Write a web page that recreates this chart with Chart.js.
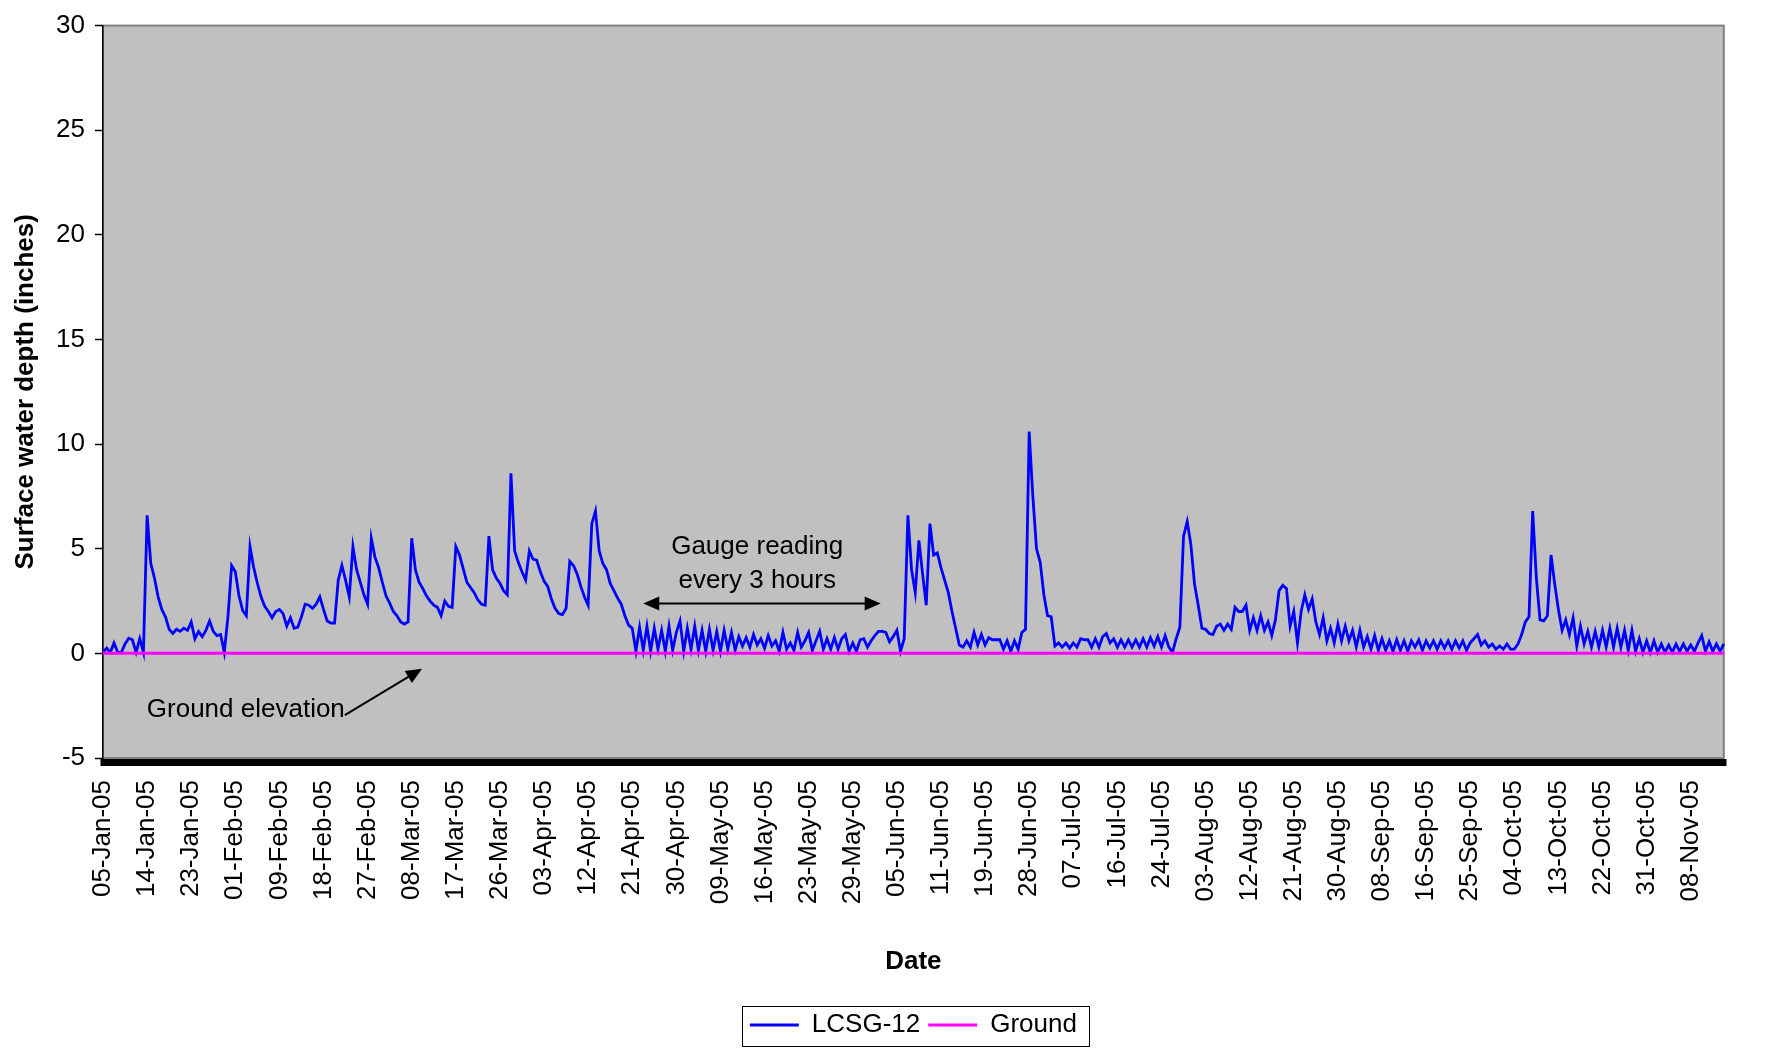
<!DOCTYPE html>
<html>
<head>
<meta charset="utf-8">
<title>LCSG-12 surface water depth</title>
<script src="https://cdn.jsdelivr.net/npm/chart.js@4.4.1/dist/chart.umd.min.js"></script>
<style>
  html, body { margin: 0; padding: 0; background: #fff; }
  canvas { display: block; }
</style>
</head>
<body>
<canvas id="depthChart" width="1769" height="1048"></canvas>
<script>
// date labels shown on the axis, one every 12 samples
const tickLabels = [
  '05-Jan-05', '14-Jan-05', '23-Jan-05', '01-Feb-05', '09-Feb-05', '18-Feb-05',
  '27-Feb-05', '08-Mar-05', '17-Mar-05', '26-Mar-05', '03-Apr-05', '12-Apr-05',
  '21-Apr-05', '30-Apr-05', '09-May-05', '16-May-05', '23-May-05', '29-May-05',
  '05-Jun-05', '11-Jun-05', '19-Jun-05', '28-Jun-05', '07-Jul-05', '16-Jul-05',
  '24-Jul-05', '03-Aug-05', '12-Aug-05', '21-Aug-05', '30-Aug-05', '08-Sep-05',
  '16-Sep-05', '25-Sep-05', '04-Oct-05', '13-Oct-05', '22-Oct-05', '31-Oct-05',
  '08-Nov-05'
];
const samplesPerLabel = 12;

// LCSG-12 surface water depth (inches), one row per label interval
const depth = [
  0.05, 0.25, 0.05, 0.5, 0.05, 0.05, 0.45, 0.72, 0.65, 0.05, 0.7, 0.05,
  6.6, 4.3, 3.6, 2.7, 2.1, 1.75, 1.15, 0.95, 1.15, 1.05, 1.2, 1.1,
  1.5, 0.7, 1.05, 0.8, 1.1, 1.55, 1.05, 0.85, 0.9, 0.05, 1.75, 4.2,
  3.9, 2.75, 2.05, 1.8, 5.1, 4.1, 3.35, 2.7, 2.25, 2.0, 1.7, 2.0,
  2.1, 1.9, 1.3, 1.7, 1.2, 1.25, 1.75, 2.35, 2.3, 2.15, 2.35, 2.7,
  2.1, 1.55, 1.45, 1.45, 3.5, 4.2, 3.5, 2.7, 5.1, 4.0, 3.4, 2.8,
  2.35, 5.5, 4.6, 4.1, 3.4, 2.75, 2.4, 2.0, 1.8, 1.5, 1.4, 1.5,
  5.5, 4.0, 3.4, 3.1, 2.75, 2.5, 2.3, 2.2, 1.8, 2.5, 2.25, 2.2,
  5.1, 4.7, 4.05, 3.4, 3.15, 2.9, 2.55, 2.35, 2.3, 5.6, 4.0, 3.6,
  3.35, 3.0, 2.8, 8.6, 4.9, 4.35, 3.9, 3.5, 4.9, 4.5, 4.45, 3.9,
  3.45, 3.2, 2.6, 2.15, 1.9, 1.85, 2.15, 4.4, 4.2, 3.8, 3.2, 2.7,
  2.3, 6.2, 6.8, 4.9, 4.3, 4.0, 3.35, 3.0, 2.65, 2.35, 1.8, 1.35,
  1.2, 0.1, 1.25, 0.15, 1.3, 0.1, 1.2, 0.2, 1.1, 0.1, 1.3, 0.15,
  1.0, 1.55, 0.1, 1.2, 0.2, 1.3, 0.15, 1.1, 0.1, 1.15, 0.15, 1.05,
  0.1, 1.1, 0.2, 1.0, 0.15, 0.8, 0.35, 0.75, 0.3, 0.9, 0.4, 0.7,
  0.25, 0.85, 0.35, 0.6, 0.1, 1.0, 0.2, 0.5, 0.15, 1.0, 0.3, 0.6,
  1.0, 0.15, 0.6, 1.05, 0.2, 0.7, 0.2, 0.75, 0.2, 0.7, 0.9, 0.1,
  0.5, 0.1, 0.65, 0.7, 0.3, 0.6, 0.85, 1.05, 1.05, 1.0, 0.55, 0.8,
  1.1, 0.1, 0.7, 6.6, 4.0, 2.9, 5.4, 3.8, 2.3, 6.2, 4.7, 4.8,
  4.1, 3.5, 2.9, 2.0, 1.2, 0.4, 0.3, 0.6, 0.3, 1.0, 0.4, 0.9,
  0.4, 0.75, 0.65, 0.65, 0.65, 0.2, 0.6, 0.1, 0.6, 0.2, 1.0, 1.15,
  10.6, 7.5, 5.0, 4.35, 2.8, 1.8, 1.75, 0.35, 0.5, 0.3, 0.5, 0.25,
  0.5, 0.3, 0.7, 0.65, 0.65, 0.3, 0.7, 0.3, 0.8, 0.95, 0.5, 0.7,
  0.3, 0.65, 0.3, 0.65, 0.3, 0.65, 0.3, 0.7, 0.3, 0.75, 0.35, 0.8,
  0.3, 0.85, 0.3, 0.05, 0.7, 1.25, 5.6, 6.3, 5.2, 3.3, 2.3, 1.2,
  1.15, 0.95, 0.9, 1.3, 1.4, 1.1, 1.4, 1.15, 2.2, 2.0, 2.0, 2.3,
  1.1, 1.7, 1.1, 1.8, 1.1, 1.5, 0.85, 1.6, 3.0, 3.25, 3.1, 1.3,
  2.0, 0.5, 2.0, 2.8, 2.1, 2.6, 1.5, 0.9, 1.7, 0.6, 1.2, 0.5,
  1.4, 0.6, 1.3, 0.6, 1.1, 0.3, 1.1, 0.3, 0.8, 0.2, 0.85, 0.15,
  0.7, 0.15, 0.6, 0.1, 0.65, 0.15, 0.6, 0.1, 0.6, 0.3, 0.65, 0.15,
  0.6, 0.25, 0.6, 0.2, 0.6, 0.25, 0.6, 0.2, 0.6, 0.25, 0.6, 0.15,
  0.5, 0.7, 0.9, 0.4, 0.6, 0.3, 0.45, 0.2, 0.35, 0.2, 0.45, 0.2,
  0.2, 0.45, 0.9, 1.5, 1.75, 6.8, 3.6, 1.6, 1.55, 1.8, 4.7, 3.3,
  2.1, 1.1, 1.6, 0.9, 1.7, 0.35, 1.3, 0.45, 1.05, 0.3, 1.05, 0.3,
  1.1, 0.3, 1.2, 0.3, 1.2, 0.3, 1.1, 0.15, 1.1, 0.1, 0.7, 0.05,
  0.6, 0.05, 0.6, 0.05, 0.45, 0.05, 0.4, 0.05, 0.45, 0.1, 0.45, 0.1,
  0.4, 0.1, 0.5, 0.85, 0.1, 0.55, 0.1, 0.45, 0.1, 0.45
];

// ground elevation (inches) at the first and last sample
const groundLevel = [0, 0];

// notes drawn on the plot, in data units (sample index, inches)
const gaugeNote = { lines: ['Gauge reading', 'every 3 hours'], x: 178, y: [4.75, 3.14] };
const gaugeArrow = { from: [147, 2.38], to: [211.6, 2.38] };
const groundNote = { text: 'Ground elevation', x: 65.8, y: -2.7 };
const groundArrow = { from: [65.8, -2.95], to: [86.8, -0.73] };

const categoryLabels = depth.map((v, i) =>
  i % samplesPerLabel === 0 ? tickLabels[i / samplesPerLabel] : '');

const family = '"Liberation Sans", Arial, sans-serif';
const font = { family: family, size: 26 };
const boldFont = { family: family, size: 26, weight: 'bold' };

const plotFrame = {
  id: 'plotFrame',
  beforeDraw(chart) {
    const { ctx, chartArea: a } = chart;
    ctx.save();
    ctx.fillStyle = '#c0c0c0';
    ctx.fillRect(a.left, a.top, a.width, a.height);
    ctx.strokeStyle = '#808080';
    ctx.lineWidth = 2;
    ctx.strokeRect(a.left, a.top, a.width, a.height);
    ctx.restore();
  },
  afterDraw(chart) {
    // box round the legend
    const lg = chart.legend;
    const hb = lg.legendHitBoxes;
    if (!hb || !hb.length) return;
    const last = hb[hb.length - 1];
    const ctx = chart.ctx;
    ctx.save();
    ctx.strokeStyle = '#000';
    ctx.lineWidth = 1;
    const left = Math.round(hb[0].left - 8) + 0.5;
    const right = Math.round(last.left + last.width + 12) + 0.5;
    const top = Math.round(lg.top + 2) + 0.5;
    const bottom = Math.round(lg.bottom - 1) - 0.5;
    ctx.strokeRect(left, top, right - left, bottom - top);
    ctx.restore();
  }
};

function arrowHead(ctx, x0, y0, x1, y1) {
  const ang = Math.atan2(y1 - y0, x1 - x0);
  const len = 16, half = 7;
  const bx = x1 - len * Math.cos(ang), by = y1 - len * Math.sin(ang);
  ctx.beginPath();
  ctx.moveTo(x1, y1);
  ctx.lineTo(bx + half * Math.sin(ang), by - half * Math.cos(ang));
  ctx.lineTo(bx - half * Math.sin(ang), by + half * Math.cos(ang));
  ctx.closePath();
  ctx.fill();
}

const notes = {
  id: 'notes',
  afterDatasetsDraw(chart) {
    const { ctx, scales: { x, y } } = chart;
    const px = v => x.getPixelForValue(v);
    const py = v => y.getPixelForValue(v);
    ctx.save();
    ctx.fillStyle = '#000';
    ctx.strokeStyle = '#000';
    ctx.font = '26px ' + family;

    ctx.textAlign = 'center';
    ctx.textBaseline = 'alphabetic';
    gaugeNote.lines.forEach((t, k) => ctx.fillText(t, px(gaugeNote.x), py(gaugeNote.y[k])));

    const gx0 = px(gaugeArrow.from[0]), gy0 = py(gaugeArrow.from[1]);
    const gx1 = px(gaugeArrow.to[0]), gy1 = py(gaugeArrow.to[1]);
    ctx.lineWidth = 2;
    ctx.beginPath();
    ctx.moveTo(gx0 + 14, gy0);
    ctx.lineTo(gx1 - 14, gy1);
    ctx.stroke();
    arrowHead(ctx, gx1, gy1, gx0, gy0);
    arrowHead(ctx, gx0, gy0, gx1, gy1);

    ctx.textAlign = 'right';
    ctx.textBaseline = 'middle';
    ctx.fillText(groundNote.text, px(groundNote.x), py(groundNote.y));

    const ax0 = px(groundArrow.from[0]), ay0 = py(groundArrow.from[1]);
    const ax1 = px(groundArrow.to[0]), ay1 = py(groundArrow.to[1]);
    const ang = Math.atan2(ay1 - ay0, ax1 - ax0);
    ctx.beginPath();
    ctx.moveTo(ax0, ay0);
    ctx.lineTo(ax1 - 14 * Math.cos(ang), ay1 - 14 * Math.sin(ang));
    ctx.stroke();
    arrowHead(ctx, ax0, ay0, ax1, ay1);
    ctx.restore();
  }
};

new Chart(document.getElementById('depthChart'), {
  type: 'line',
  data: {
    labels: categoryLabels,
    datasets: [
      {
        label: 'LCSG-12',
        data: depth,
        borderColor: '#0000ff',
        backgroundColor: '#0000ff',
        borderWidth: 2.8,
        pointRadius: 0,
        tension: 0,
        fill: false,
        order: 1
      },
      {
        label: 'Ground',
        data: [
          { x: 0, y: groundLevel[0] },
          { x: depth.length - 1, y: groundLevel[1] }
        ],
        xAxisID: 'xg',
        borderColor: '#ff00ff',
        backgroundColor: '#ff00ff',
        borderWidth: 3,
        pointRadius: 0,
        fill: false,
        order: 0
      }
    ]
  },
  options: {
    responsive: false,
    animation: false,
    devicePixelRatio: 1,
    layout: { padding: { left: 0, right: 9, top: 19, bottom: 0 } },
    scales: {
      x: {
        type: 'category',
        offset: false,
        ticks: {
          autoSkip: false,
          maxRotation: 90,
          minRotation: 90,
          padding: 14,
          color: '#000',
          font: font
        },
        grid: {
          drawOnChartArea: false,
          tickLength: 8,
          tickWidth: 6,
          tickColor: '#000',
          offset: false
        },
        border: { color: '#808080', width: 1 },
        title: {
          display: true,
          text: 'Date',
          color: '#000',
          font: boldFont,
          padding: { top: 0, bottom: 27 }
        },
        afterFit(s) { s.height = 246; }
      },
      xg: {
        type: 'linear',
        display: false,
        min: 0,
        max: depth.length - 1
      },
      y: {
        min: -5,
        max: 30,
        ticks: { stepSize: 5, color: '#000', font: font, padding: 10 },
        grid: { drawOnChartArea: false, tickLength: 8, tickColor: '#000', tickWidth: 1.5 },
        border: { color: '#000', width: 1.5 },
        title: {
          display: true,
          text: 'Surface water depth (inches)',
          color: '#000',
          font: boldFont,
          padding: { top: 10, bottom: 0 }
        },
        afterFit(s) { s.width = 103; }
      }
    },
    plugins: {
      legend: {
        position: 'bottom',
        fullSize: false,
        reverse: true,
        labels: {
          usePointStyle: true,
          pointStyle: 'line',
          pointStyleWidth: 49,
          color: '#000',
          font: font,
          padding: 8
        }
      },
      tooltip: { enabled: false }
    }
  },
  plugins: [plotFrame, notes]
});
</script>
</body>
</html>
